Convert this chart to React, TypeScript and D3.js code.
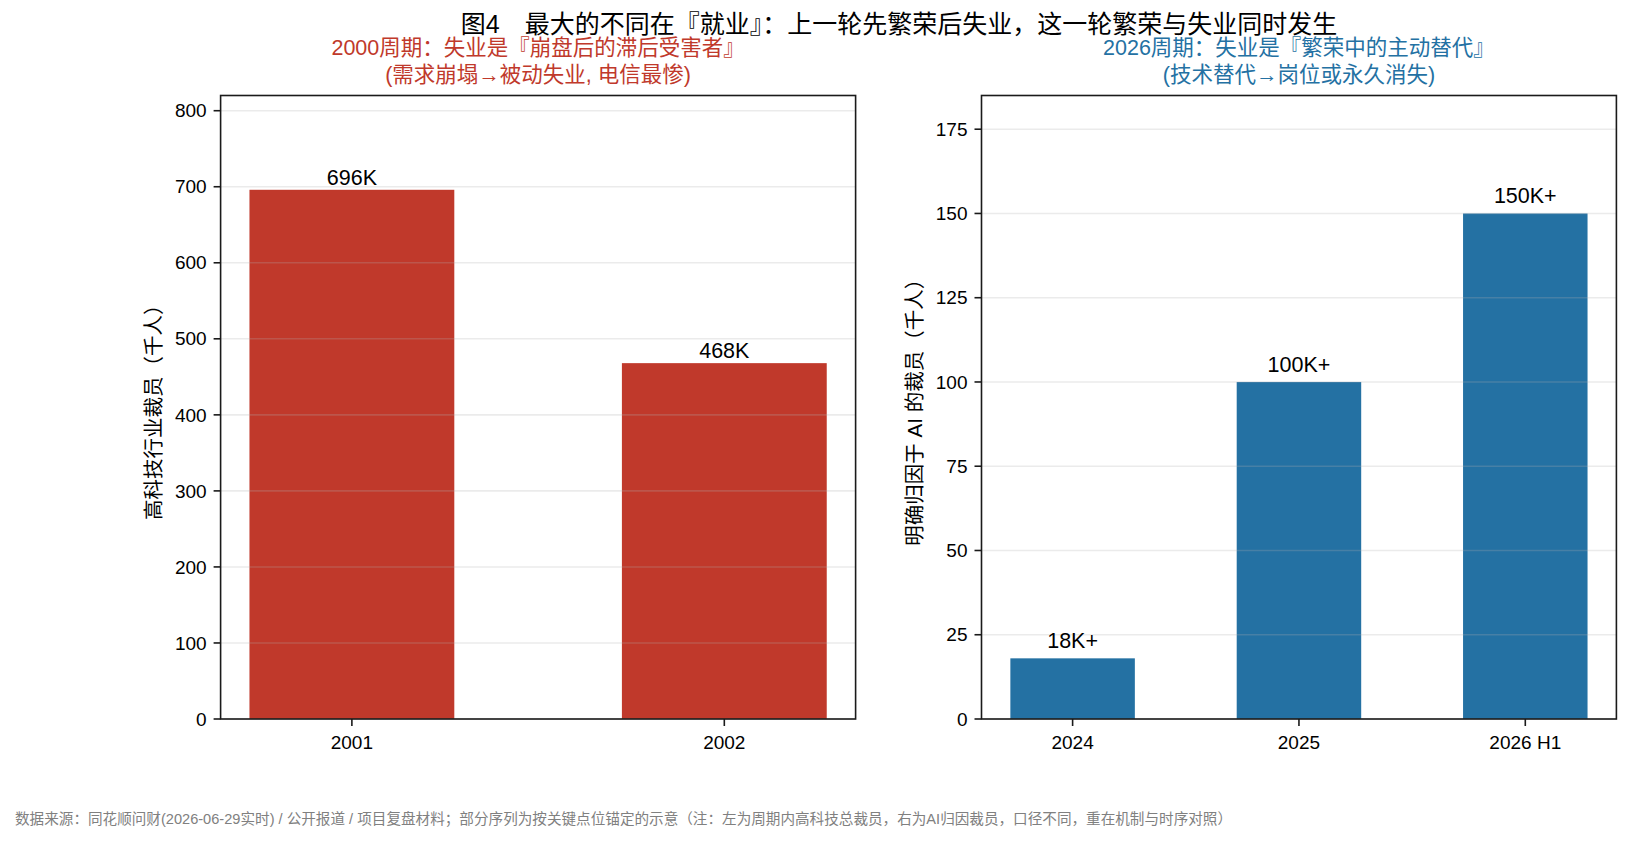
import React from "react";
import * as d3 from "d3";

// left panel: 2000 cycle
const leftYears = ["2001", "2002"];
const leftValues = [696, 468];
const leftLabels = ["696K", "468K"];
const leftTicks = [0, 100, 200, 300, 400, 500, 600, 700, 800];

// right panel: 2026 cycle
const rightPeriods = ["2024", "2025", "2026 H1"];
const rightValues = [18, 100, 150];
const rightLabels = ["18K+", "100K+", "150K+"];
const rightTicks = [0, 25, 50, 75, 100, 125, 150, 175];

const title = "图4\u3000最大的不同在『就业』：上一轮先繁荣后失业，这一轮繁荣与失业同时发生";
const leftSub = ["2000周期：失业是『崩盘后的滞后受害者』", "(需求崩塌→被动失业, 电信最惨)"];
const rightSub = ["2026周期：失业是『繁荣中的主动替代』", "(技术替代→岗位或永久消失)"];
const leftYLabel = "高科技行业裁员（千人）";
const rightYLabel = "明确归因于 AI 的裁员（千人）";
const footnote =
  "数据来源：同花顺问财(2026-06-29实时) / 公开报道 / 项目复盘材料；部分序列为按关键点位锚定的示意（注：左为周期内高科技总裁员，右为AI归因裁员，口径不同，重在机制与时序对照）";

const FONT = '"Liberation Sans", Arial, "Noto Sans CJK SC", sans-serif';
const RED = "#c0392b";
const BLUE = "#2471a3";

type PanelProps = {
  left: number;
  right: number;
  top: number;
  bottom: number;
  cats: string[];
  values: number[];
  labels: string[];
  ticks: number[];
  yMax: number;
  color: string;
  ylabel: string;
  sub: string[];
  labelGap: number;
};

const Panel = (p: PanelProps) => {
  const n = p.cats.length;
  const bw = 0.55;
  const margin = 0.05 * (n - 1 + bw);
  const x = d3
    .scaleLinear()
    .domain([-bw / 2 - margin, n - 1 + bw / 2 + margin])
    .range([p.left, p.right]);
  const y = d3.scaleLinear().domain([0, p.yMax]).range([p.bottom, p.top]);
  const cx = (p.left + p.right) / 2;
  const tickLen = 7;

  return (
    <g>
      {p.sub.map((s, i) => (
        <text key={i} x={cx} y={55 + i * 27} textAnchor="middle" fontSize={21.5} fill={p.color}>
          {s}
        </text>
      ))}
      {p.values.map((v, i) => (
        <rect
          key={i}
          x={x(i - bw / 2)}
          y={y(v)}
          width={x(i + bw / 2) - x(i - bw / 2)}
          height={y(0) - y(v)}
          fill={p.color}
        />
      ))}
      {/* grid on top, faint */}
      {p.ticks.map((t) => (
        <line
          key={t}
          x1={p.left}
          x2={p.right}
          y1={y(t)}
          y2={y(t)}
          stroke="#b0b0b0"
          strokeOpacity={0.25}
          strokeWidth={1.6}
        />
      ))}
      {p.values.map((v, i) => (
        <text key={i} x={x(i)} y={y(v) - p.labelGap} textAnchor="middle" fontSize={21.5} fill="#000">
          {p.labels[i]}
        </text>
      ))}
      <rect
        x={p.left}
        y={p.top}
        width={p.right - p.left}
        height={p.bottom - p.top}
        fill="none"
        stroke="#1a1a1a"
        strokeWidth={1.6}
      />
      {p.ticks.map((t) => (
        <g key={t}>
          <line x1={p.left - tickLen} x2={p.left} y1={y(t)} y2={y(t)} stroke="#1a1a1a" strokeWidth={1.6} />
          <text x={p.left - tickLen - 7} y={y(t)} dy="0.35em" textAnchor="end" fontSize={19}>
            {t}
          </text>
        </g>
      ))}
      {p.cats.map((c, i) => (
        <g key={c}>
          <line x1={x(i)} x2={x(i)} y1={p.bottom} y2={p.bottom + tickLen} stroke="#1a1a1a" strokeWidth={1.6} />
          <text x={x(i)} y={749} textAnchor="middle" fontSize={19}>
            {c}
          </text>
        </g>
      ))}
      <text
        transform={`translate(${p.left - 60},${(p.top + p.bottom) / 2}) rotate(-90)`}
        textAnchor="middle"
        fontSize={20.5}
      >
        {p.ylabel}
      </text>
    </g>
  );
};

export default function App() {
  const W = 1632;
  const H = 843;
  const top = 95.5;
  const bottom = 719;
  return (
    <svg
      width={W}
      height={H}
      style={{ position: "absolute", left: 0, top: 0, background: "#fff" }}
      fontFamily={FONT}
    >
      <rect width={W} height={H} fill="#fff" />
      <text x={899} y={33} textAnchor="middle" fontSize={25} fill="#000">
        {title}
      </text>
      <Panel
        left={220.6}
        right={855.6}
        top={top}
        bottom={bottom}
        cats={leftYears}
        values={leftValues}
        labels={leftLabels}
        ticks={leftTicks}
        yMax={820}
        color={RED}
        ylabel={leftYLabel}
        sub={leftSub}
        labelGap={5}
      />
      <Panel
        left={981.5}
        right={1616.4}
        top={top}
        bottom={bottom}
        cats={rightPeriods}
        values={rightValues}
        labels={rightLabels}
        ticks={rightTicks}
        yMax={185}
        color={BLUE}
        ylabel={rightYLabel}
        sub={rightSub}
        labelGap={10}
      />
      <text x={15} y={824} fontSize={14.6} fill="#808080">
        {footnote}
      </text>
    </svg>
  );
}
